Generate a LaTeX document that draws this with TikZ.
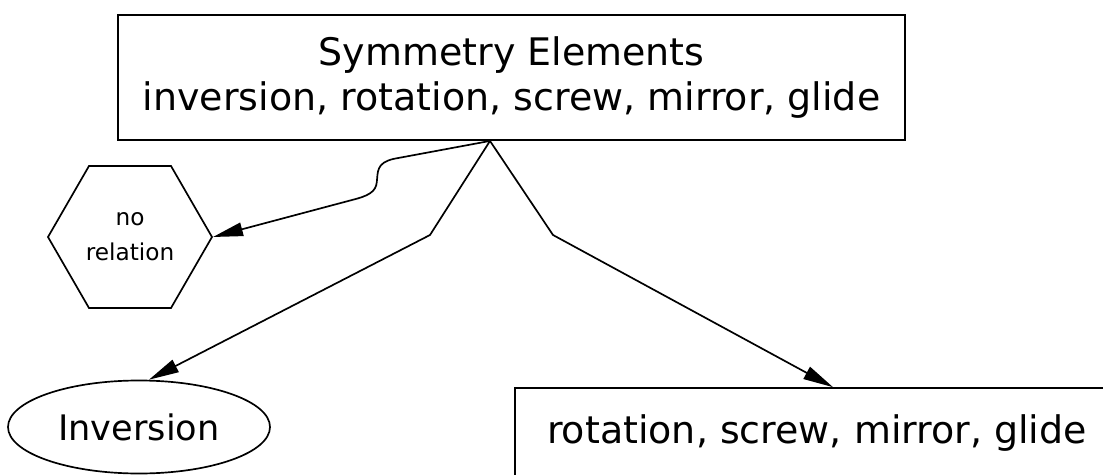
\documentclass[tikz,border=0pt]{standalone}
\usepackage{fontspec}
\setmainfont{DejaVu Sans}
\usetikzlibrary{arrows.meta,positioning,shapes.geometric}
\definecolor{Ink}{HTML}{000000}

\begin{document}
\begin{tikzpicture}[
  elembox/.style={draw=Ink,line width=1.2pt,minimum width=19.675cm,minimum height=3.125cm,align=center,font=\fontsize{27}{31.5}\selectfont},
  hexbox/.style={regular polygon,regular polygon sides=6,draw=Ink,line width=1.2pt,minimum size=4.1cm,inner sep=0pt,align=center,font=\fontsize{16.5}{24.8}\selectfont},
  ovalbox/.style={ellipse,draw=Ink,line width=1.2pt,minimum width=6.55cm,minimum height=2.325cm,inner sep=0pt,font=\fontsize{25}{30}\selectfont},
  restbox/.style={draw=Ink,line width=1.2pt,minimum width=15.1cm,minimum height=2.25cm,font=\fontsize{27}{30}\selectfont},
  arrow/.style={-{Triangle[length=0.75cm,width=0.34cm]},line width=1.2pt,draw=Ink}
]
\useasboundingbox (0,0) rectangle (27.575,-11.875);
\node[elembox] (sym) at (12.79,-1.94) {Symmetry Elements\\inversion, rotation, screw, mirror, glide};
\node[hexbox] (nr) at (3.25,-5.925) {no\\relation};
\node[ovalbox] (inv) at (3.475,-10.675) {Inversion};
\node[restbox] (rest) at (20.425,-10.825) {rotation, screw, mirror, glide};
\coordinate (src) at ([xshift=-0.54cm]sym.south);
\draw[arrow] (src) -- (9.85,-3.97) .. controls (9.4,-4.07) and (9.45,-4.3) .. (9.42,-4.55) .. controls (9.4,-4.8) and (9.2,-4.9) .. (8.8,-5.0) -- (nr.east);
\draw[arrow] (src) -- (10.75,-5.875) -- ([xshift=0.25cm]inv.north);
\draw[arrow] (src) -- (13.825,-5.875) -- ([xshift=0.4cm]rest.north);
\end{tikzpicture}
\end{document}
